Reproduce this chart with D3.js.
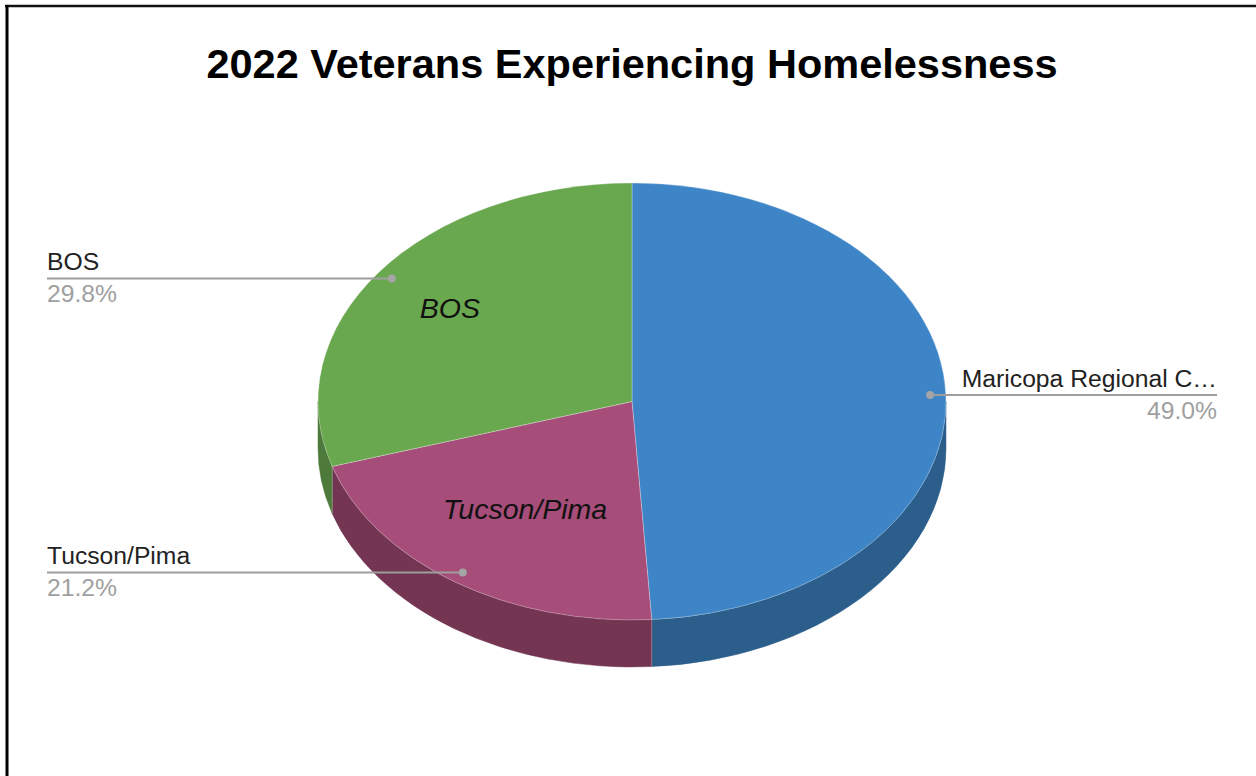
<!DOCTYPE html>
<html>
<head>
<meta charset="utf-8">
<script src="https://cdn.jsdelivr.net/npm/d3@7/dist/d3.min.js"></script>
<style>
  html, body { margin: 0; padding: 0; background: #ffffff; }
  svg { display: block; }
</style>
</head>
<body>
<svg id="chart" width="1256" height="776"></svg>
<script>
// Chart data
const categories = ["Maricopa Regional CoC", "Tucson/Pima", "BOS"];
const shares = [49.0, 21.2, 29.8];
const topColors = ["#3d85c6", "#a64d79", "#6aa84f"];
const sideColors = ["#2c5e8c", "#733552", "#4d7a3a"];
const insideLabels = ["Tucson/Pima", "BOS"];
const titleText = "2022 Veterans Experiencing Homelessness";

const W = 1256, H = 776;
const svg = d3.select("#chart");

// Frame
svg.append("line").attr("x1", 5).attr("x2", W).attr("y1", 6).attr("y2", 6)
  .attr("stroke", "#111").attr("stroke-width", 2.5);
svg.append("line").attr("x1", 7).attr("x2", 7).attr("y1", 5).attr("y2", H)
  .attr("stroke", "#000").attr("stroke-width", 3);

// Title
svg.append("text")
  .attr("x", 632).attr("y", 78)
  .attr("text-anchor", "middle")
  .attr("font-family", "Liberation Sans, Arial, sans-serif")
  .attr("font-weight", "bold")
  .attr("font-size", 41.5)
  .attr("fill", "#000")
  .text(titleText);

// 3D pie geometry
const cx = 632, cy = 401.5, rx = 314, ry = 218.5, depth = 47;
const pt = (a, f = 1, dy = 0) => [cx + f * rx * Math.sin(a), cy - f * ry * Math.cos(a) + dy];

const data = categories.map((c, i) => ({ name: c, value: shares[i], i }));
const arcs = d3.pie().sort(null).value(d => d.value)(data);

const g = svg.append("g");

// Side walls (front half only: angles between PI/2 and 3PI/2)
arcs.forEach(a => {
  const s = Math.max(a.startAngle, Math.PI / 2);
  const e = Math.min(a.endAngle, 3 * Math.PI / 2);
  if (e <= s) return;
  const p0 = pt(s), p1 = pt(e), q1 = pt(e, 1, depth), q0 = pt(s, 1, depth);
  const path = `M${p0}A${rx},${ry} 0 0 1 ${p1}L${q1}A${rx},${ry} 0 0 0 ${q0}Z`;
  g.append("path").attr("d", path)
    .attr("fill", sideColors[a.data.i])
    .attr("stroke", sideColors[a.data.i]).attr("stroke-width", 0.5);
});
// Thin highlight on wall seams
arcs.forEach(a => {
  const ang = a.endAngle;
  if (ang > Math.PI / 2 && ang < 3 * Math.PI / 2) {
    const p = pt(ang), q = pt(ang, 1, depth);
    g.append("line").attr("x1", p[0]).attr("y1", p[1]).attr("x2", q[0]).attr("y2", q[1])
      .attr("stroke", "#ffffff").attr("stroke-opacity", 0.25).attr("stroke-width", 1);
  }
});

// Top faces
arcs.forEach(a => {
  const p0 = pt(a.startAngle), p1 = pt(a.endAngle);
  const large = (a.endAngle - a.startAngle) > Math.PI ? 1 : 0;
  const path = `M${cx},${cy}L${p0}A${rx},${ry} 0 ${large} 1 ${p1}Z`;
  g.append("path").attr("d", path)
    .attr("fill", topColors[a.data.i])
    .attr("stroke", "#ffffff").attr("stroke-opacity", 0.35).attr("stroke-width", 0.8);
});

// Labels inside slices
const insideRadius = { "Tucson/Pima": 0.6, "BOS": 0.72 };
arcs.filter(a => insideLabels.includes(a.data.name)).forEach(a => {
  const mid = (a.startAngle + a.endAngle) / 2;
  const p = pt(mid, insideRadius[a.data.name]);
  g.append("text")
    .attr("x", p[0]).attr("y", p[1] + 10)
    .attr("text-anchor", "middle")
    .attr("font-family", "Liberation Sans, Arial, sans-serif")
    .attr("font-style", "italic")
    .attr("font-size", 28.5)
    .attr("fill", "#111")
    .text(a.data.name);
});

// Leader lines with outside labels
const labelFont = "Liberation Sans, Arial, sans-serif";
const labelSize = 24.7;
const leftEdge = 47, rightEdge = 1217;
const fmt = d3.format(".1f");

function fitText(sel, text, maxW) {
  sel.text(text);
  if (sel.node().getComputedTextLength() <= maxW) return;
  let t = text;
  while (t.length > 1) {
    t = t.slice(0, -1);
    sel.text(t.trimEnd() + "\u2026");
    if (sel.node().getComputedTextLength() <= maxW) return;
  }
}

arcs.forEach(a => {
  const mid = (a.startAngle + a.endAngle) / 2;
  const dot = pt(mid, 0.95);
  const onRight = Math.sin(mid) > 0;
  const endX = onRight ? rightEdge : leftEdge;
  const ly = dot[1];
  g.append("line")
    .attr("x1", dot[0]).attr("y1", ly).attr("x2", endX).attr("y2", ly)
    .attr("stroke", "#9e9e9e").attr("stroke-width", 2);
  g.append("circle").attr("cx", dot[0]).attr("cy", ly).attr("r", 4)
    .attr("fill", "#a5a5a5");
  const anchor = onRight ? "end" : "start";
  const name = g.append("text")
    .attr("x", endX).attr("y", ly - 8)
    .attr("text-anchor", anchor)
    .attr("font-family", labelFont).attr("font-size", labelSize)
    .attr("fill", "#222");
  fitText(name, a.data.name, onRight ? 258 : 400);
  g.append("text")
    .attr("x", endX).attr("y", ly + 24)
    .attr("text-anchor", anchor)
    .attr("font-family", labelFont).attr("font-size", labelSize)
    .attr("fill", "#a0a0a0")
    .text(fmt(a.data.value) + "%");
});
</script>
</body>
</html>
